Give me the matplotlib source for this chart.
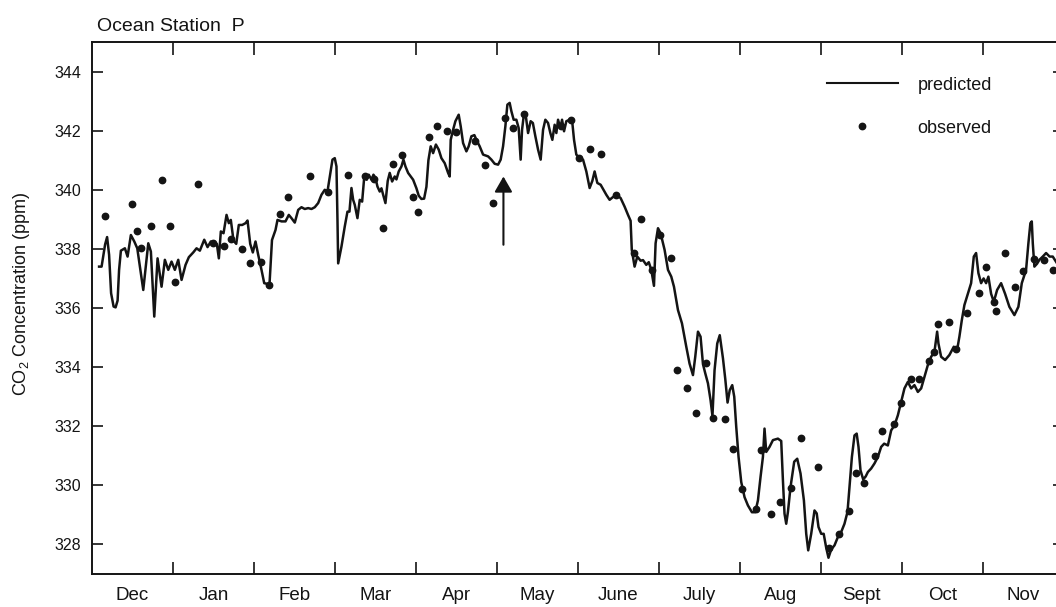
import matplotlib
matplotlib.use('Agg')
import matplotlib.pyplot as plt
from matplotlib.lines import Line2D
from matplotlib.ticker import FixedLocator, NullFormatter, FixedFormatter

plt.rcParams['font.family'] = ['Liberation Sans', 'DejaVu Sans']
plt.rcParams['mathtext.default'] = 'regular'

# ---------------- data ----------------
months = ['Dec', 'Jan', 'Feb', 'Mar', 'Apr', 'May', 'June', 'July', 'Aug', 'Sept', 'Oct', 'Nov']
yticks = [328, 330, 332, 334, 336, 338, 340, 342, 344]

# predicted CO2 (days since 1 Dec, ppm)
pred_day = [2.66, 3.60, 4.92, 5.67, 6.42, 7.17, 8.11, 8.86, 9.61, 10.17, 10.85, 12.35, 13.36, 14.60, 15.88,
            17.00, 19.25, 21.13, 22.11, 23.38, 24.62, 26.12, 27.36, 28.64, 29.87, 31.11, 32.39, 33.63, 35.13,
            36.37, 38.02, 39.26, 40.50, 42.15, 43.39, 44.62, 45.90, 46.88, 47.63, 48.38, 49.39, 50.52, 51.38,
            52.13, 53.14, 54.16, 55.13, 56.41, 57.65, 58.40, 59.41, 60.39, 61.40, 62.41, 63.65, 64.67, 66.65,
            67.59, 68.91, 69.66, 71.16, 72.66, 73.90, 74.91, 76.15, 77.43, 78.66, 79.90, 81.18, 82.42, 83.66,
            84.93, 86.17, 87.41, 88.42, 89.29, 90.30, 91.16, 91.80, 92.18, 92.44, 93.68, 94.92, 95.93, 96.68,
            97.43, 98.07, 98.67, 99.68, 100.54, 101.44, 102.20, 103.17, 103.92, 104.94, 105.69, 106.44, 107.19,
            108.05, 108.69, 109.33, 110.19, 111.05, 111.80, 112.70, 113.68, 114.32, 115.18, 116.20, 116.95,
            117.70, 118.71, 120.59, 121.83, 122.69, 123.70, 124.71, 125.58, 126.33, 127.19, 128.09, 129.14,
            130.19, 131.21, 132.45, 133.72, 134.32, 134.70, 135.60, 136.46, 137.70, 138.45, 139.35, 140.59,
            141.45, 142.47, 143.59, 144.34, 145.58, 146.86, 148.74, 149.97, 151.21, 152.49, 153.46, 154.36,
            155.23, 155.98, 156.84, 157.48, 158.34, 159.35, 160.22, 160.97, 161.49, 162.25, 163.00, 163.75,
            164.72, 165.55, 166.49, 167.50, 168.48, 169.38, 170.24, 171.25, 172.12, 172.87, 173.73, 174.37,
            175.01, 175.87, 176.51, 177.26, 178.12, 179.36, 180.26, 181.01, 181.87, 183.11, 184.39, 185.63,
            186.87, 187.88, 188.74, 189.76, 191.00, 191.90, 193.14, 194.37, 195.58, 196.89, 198.50, 200.00,
            201.28, 202.25, 202.70, 203.75, 204.77, 206.01, 206.91, 208.14, 209.08, 210.02, 211.03, 211.64,
            212.54, 213.51, 215.01, 216.29, 217.53, 218.54, 220.04, 221.54, 223.16, 224.39, 225.67, 226.53,
            227.55, 228.52, 229.43, 230.29, 231.30, 232.28, 232.99, 233.78, 234.79, 235.73, 236.93, 237.80,
            238.66, 239.48, 240.42, 241.17, 241.92, 242.79, 243.80, 245.04, 246.31, 247.81, 249.05, 250.07,
            251.04, 251.94, 252.54, 253.18, 254.42, 255.70, 257.57, 258.81, 259.45, 260.05, 260.69, 261.33,
            262.30, 263.69, 264.82, 266.06, 267.33, 268.20, 268.95, 270.07, 271.31, 272.14, 272.81, 273.83,
            274.76, 275.70, 276.56, 277.58, 278.82, 280.09, 281.33, 282.57, 283.70, 284.45, 285.35, 286.33,
            287.15, 287.83, 288.58, 289.59, 290.53, 291.35, 292.59, 293.83, 295.11, 296.34, 297.47, 298.86,
            300.10, 301.34, 302.61, 303.85, 305.09, 306.37, 307.61, 308.84, 310.12, 311.36, 312.60, 313.87,
            315.11, 316.35, 317.36, 317.85, 318.86, 320.36, 321.97, 323.62, 324.86, 325.72, 326.63, 327.60,
            328.62, 330.12, 331.13, 331.99, 332.86, 333.87, 334.81, 335.75, 336.61, 337.63, 338.64, 339.88,
            341.38, 342.88, 344.49, 346.37, 347.87, 349.15, 350.76, 351.63, 352.38, 352.90, 353.28, 353.88,
            354.89, 355.76, 357.03, 358.27, 359.58, 360.78, 362.39, 364.50]
pred_val = [337.40, 337.40, 338.15, 338.40, 337.80, 336.50, 336.05, 336.02, 336.25, 337.29, 337.94, 338.02,
            337.74, 338.47, 338.25, 338.02, 336.61, 338.19, 337.91, 335.71, 337.68, 336.72, 337.63, 337.29,
            337.57, 337.29, 337.63, 336.95, 337.46, 337.72, 337.88, 338.02, 337.94, 338.31, 338.06, 338.25,
            338.14, 338.17, 337.68, 338.59, 338.53, 339.15, 338.87, 338.98, 338.28, 338.17, 338.81, 338.81,
            338.87, 338.96, 338.17, 337.88, 338.25, 337.80, 337.29, 336.84, 336.80, 338.30, 338.64, 338.98,
            338.93, 338.93, 339.15, 339.04, 338.89, 339.32, 339.41, 339.35, 339.38, 339.35, 339.41, 339.55,
            339.83, 340.00, 339.94, 340.45, 341.02, 341.07, 340.79, 338.98, 337.51, 338.08, 338.76, 339.26,
            339.26, 340.06, 339.66, 339.49, 339.04, 339.66, 339.60, 340.40, 340.34, 340.51, 340.34, 340.51,
            340.40, 340.11, 339.94, 340.05, 339.83, 339.55, 340.30, 340.57, 340.28, 340.45, 340.35, 340.62,
            340.79, 341.02, 340.79, 340.57, 340.34, 340.05, 339.80, 339.69, 339.70, 340.10, 341.00, 341.47,
            341.24, 341.53, 341.36, 341.07, 340.90, 340.57, 340.45, 341.69, 342.03, 342.32, 342.54, 342.15,
            341.58, 341.30, 341.47, 341.81, 341.85, 341.69, 341.47, 341.19, 341.13, 341.02, 340.88, 340.85,
            341.02, 341.47, 342.15, 342.88, 342.94, 342.66, 342.37, 342.37, 342.09, 341.02, 342.03, 342.60,
            342.43, 341.92, 342.32, 342.26, 341.81, 341.36, 341.02, 342.03, 342.37, 342.26, 341.92, 341.69,
            342.20, 341.92, 342.37, 342.09, 342.37, 341.98, 342.32, 342.37, 342.37, 341.69, 341.19, 341.07,
            341.02, 340.62, 340.06, 340.30, 340.62, 340.23, 340.17, 340.03, 339.83, 339.66, 339.75, 339.83,
            339.72, 339.43, 339.15, 338.95, 337.97, 337.40, 337.74, 337.60, 337.62, 337.46, 337.55, 337.29,
            336.75, 338.19, 338.70, 338.53, 337.97, 337.29, 337.06, 336.72, 335.93, 335.48, 334.69, 334.12,
            333.73, 334.35, 335.20, 335.03, 334.10, 333.79, 333.45, 332.88, 332.35, 333.90, 334.80, 335.08,
            334.30, 333.60, 332.80, 333.22, 333.39, 333.00, 331.98, 330.96, 330.11, 329.60, 329.32, 329.09,
            329.09, 329.49, 330.28, 330.96, 331.92, 331.13, 331.30, 331.53, 331.58, 331.50, 330.17, 329.04,
            328.70, 329.10, 329.94, 330.80, 330.90, 330.40, 329.49, 328.36, 327.80, 328.36, 329.15, 329.05,
            328.59, 328.36, 328.36, 327.89, 327.55, 327.83, 327.97, 328.25, 328.42, 328.70, 329.10, 329.94,
            330.96, 331.69, 331.75, 331.30, 330.51, 330.20, 330.30, 330.45, 330.57, 330.74, 330.96, 331.30,
            331.41, 331.35, 331.86, 332.03, 332.37, 332.82, 333.28, 333.50, 333.28, 333.39, 333.16, 333.28,
            333.67, 334.07, 334.35, 334.52, 335.20, 334.80, 334.35, 334.24, 334.41, 334.69, 334.58, 335.03,
            335.59, 336.10, 336.40, 336.84, 337.74, 337.86, 337.18, 336.84, 337.00, 336.84, 337.06, 336.48,
            336.21, 336.61, 336.84, 336.48, 336.04, 335.76, 336.04, 336.84, 337.29, 338.19, 338.87, 338.93,
            338.19, 337.40, 337.50, 337.63, 337.74, 337.86, 337.74, 337.74, 337.51, 337.60]

# observed CO2 (days since 1 Dec, ppm)
obs_day = [4.84, 14.86, 16.74, 18.43, 22.11, 26.20, 29.31, 31.11, 39.93, 45.52, 49.65, 52.24, 56.45, 59.26,
           63.50, 66.28, 70.60, 73.71, 81.78, 88.69, 96.04, 102.69, 106.06, 109.33, 112.93, 116.46, 120.59,
           122.39, 126.52, 129.71, 133.46, 136.84, 143.71, 147.72, 150.61, 154.97, 158.12, 162.25, 176.25,
           179.74, 182.70, 186.87, 190.99, 196.89, 203.46, 206.27, 210.14, 213.33, 217.53, 219.78, 223.46,
           226.80, 230.55, 233.18, 237.53, 240.68, 244.17, 249.43, 251.31, 255.06, 258.44, 262.57, 266.13,
           272.70, 276.94, 280.50, 284.14, 286.84, 290.07, 293.97, 296.49, 301.11, 303.85, 307.60, 310.72,
           314.47, 316.12, 317.62, 321.98, 324.49, 328.43, 333.24, 335.75, 338.75, 339.60, 342.88, 346.63,
           349.52, 353.88, 357.63, 360.78]
obs_val = [339.12, 339.53, 338.61, 338.02, 338.78, 340.32, 338.78, 336.88, 340.20, 338.19, 338.09, 338.33,
           338.01, 337.51, 337.56, 336.78, 339.18, 339.75, 340.45, 339.94, 340.50, 340.45, 340.35, 338.72,
           340.87, 341.18, 339.75, 339.26, 341.78, 342.15, 341.98, 341.94, 341.64, 340.85, 339.55, 342.43,
           342.09, 342.58, 342.17, 342.35, 341.07, 341.38, 341.21, 339.83, 337.85, 339.00, 337.29, 338.46,
           337.68, 333.89, 333.28, 332.46, 334.15, 332.29, 332.23, 331.23, 329.89, 329.21, 331.19, 329.04,
           329.42, 329.91, 331.60, 330.62, 327.89, 328.36, 329.13, 330.41, 330.08, 330.98, 331.83, 332.08,
           332.77, 333.59, 333.59, 334.20, 334.52, 335.46, 335.54, 334.60, 335.83, 336.52, 337.38, 336.21,
           335.91, 337.87, 336.72, 337.26, 337.65, 337.63, 337.29]

# arrow marking a date (day, tail value, tip value)
arrow_day = 154.5
arrow_tail = 338.14
arrow_tip = 340.45

# ---------------- figure ----------------
ink = '#141414'
fig = plt.figure(figsize=(10.56, 6.07), dpi=100)
ax = fig.add_axes([92 / 1056, 33 / 607, 972 / 1056, 532 / 607])

ax.plot(pred_day, pred_val, color=ink, lw=1.8, solid_joinstyle='round', label='predicted')
ax.plot(obs_day, obs_val, 'o', color=ink, ms=4.6, ls='none', label='observed')

ax.annotate('', xy=(arrow_day, arrow_tip), xytext=(arrow_day, arrow_tail),
            arrowprops=dict(arrowstyle='-|>,head_length=0.47,head_width=0.27', color=ink, lw=1.5,
                            shrinkA=0, shrinkB=0, mutation_scale=20))

ax.set_xlim(0, 365)
ax.set_ylim(327, 345)

month_len = 365 / 12
bounds = [month_len * k for k in range(1, 12)]
mids = [month_len * (k + 0.5) for k in range(12)]
ax.xaxis.set_major_locator(FixedLocator(bounds))
ax.xaxis.set_major_formatter(NullFormatter())
ax.xaxis.set_minor_locator(FixedLocator(mids))
ax.xaxis.set_minor_formatter(FixedFormatter(months))
ax.tick_params(axis='x', which='minor', length=0, pad=9, labelsize=13.5, labelcolor=ink)
ax.tick_params(axis='x', which='major', direction='in', length=9, width=1.2, top=True, bottom=True,
               color=ink)
ax.set_yticks(yticks)
ax.set_yticklabels([str(v) for v in yticks])
ax.tick_params(axis='y', direction='in', length=8, width=1.2, left=True, right=True, labelsize=11.5,
               pad=8, labelcolor=ink, color=ink)
for s in ax.spines.values():
    s.set_linewidth(1.4)
    s.set_color(ink)

handles = [Line2D([], [], color=ink, lw=1.5),
           Line2D([], [], color=ink, marker='o', ms=4.6, ls='none')]
ax.legend(handles, ['predicted', 'observed'], loc='upper left', bbox_to_anchor=(0.756, 0.935),
          frameon=False, handlelength=3.93, handletextpad=1.1, labelspacing=1.45, borderpad=0,
          borderaxespad=0, fontsize=13, labelcolor=ink)

fig.text(97 / 1056, 1 - 31 / 607, 'Ocean Station  P', fontsize=14, ha='left', va='baseline', color=ink)
fig.text(22 / 1056, 1 - 294 / 607, 'CO$_2$ Concentration (ppm)', rotation=90, ha='center', va='center',
         fontsize=13, color=ink)

fig.savefig('out.png', dpi=100)
